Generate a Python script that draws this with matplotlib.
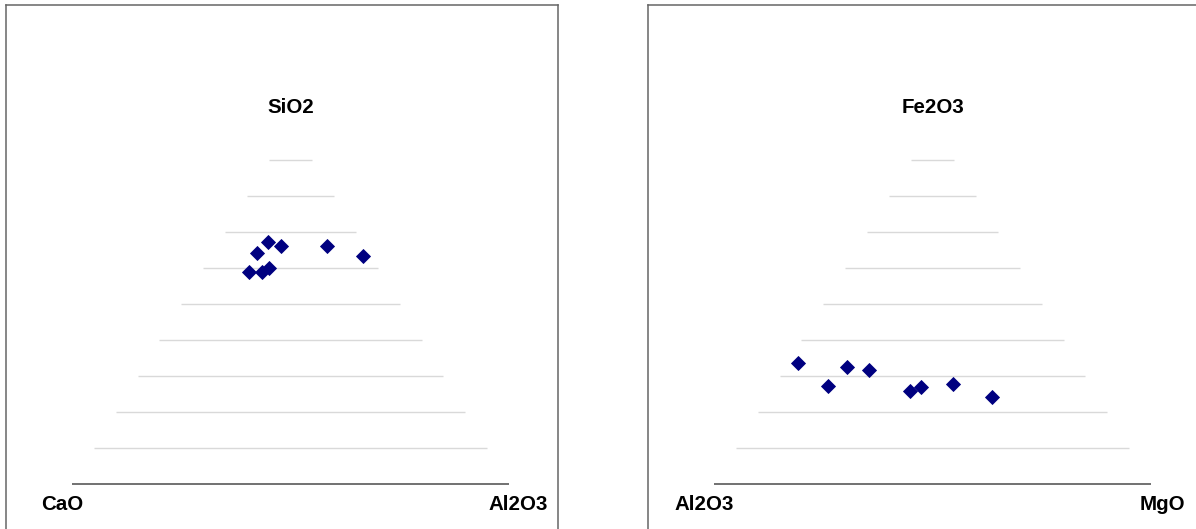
import matplotlib
matplotlib.use("Agg")
import matplotlib.pyplot as plt
import numpy as np

plt.rcParams['font.family'] = ['Liberation Sans', 'DejaVu Sans']

# ---- data (normalised wt %) ----
left_top_label, left_left_label, left_right_label = "SiO2", "CaO", "Al2O3"
left_SiO2 = [67.3, 66.0, 64.1, 66.0, 63.4, 58.9, 58.9, 60.1]
left_CaO = [21.4, 19.2, 25.6, 8.7, 1.6, 30.1, 27.1, 24.8]
left_Al2O3 = [11.3, 14.8, 10.3, 25.3, 35.0, 11.0, 14.0, 15.1]

right_top_label, right_left_label, right_right_label = "Fe2O3", "Al2O3", "MgO"
right_Fe2O3 = [33.6, 27.1, 32.4, 31.6, 25.8, 26.9, 27.7, 24.1]
right_Al2O3 = [63.9, 60.4, 53.4, 48.7, 42.2, 39.2, 31.5, 24.3]
right_MgO = [2.5, 12.5, 14.2, 19.7, 32.0, 33.9, 40.8, 51.6]

grid_levels = [0.1, 0.2, 0.3, 0.4, 0.5, 0.6, 0.7, 0.8, 0.9]

W, H = 1196, 529
fig = plt.figure(figsize=(W / 100, H / 100), dpi=100)


def panel(x0, top, left, right, top_lbl, left_lbl, right_lbl, lx, rx):
    # frame
    pa = fig.add_axes([x0 / W, -0.1, 552 / W, 1.1 - 5 / H])
    pa.set_xticks([]); pa.set_yticks([])
    for s in pa.spines.values():
        s.set_color('#666666'); s.set_linewidth(1.1)
    pa.patch.set_alpha(0)
    # triangle axes
    tx0 = x0 + 66
    ax = fig.add_axes([tx0 / W, (H - 484) / H, 437 / W, 360 / H])
    ax.set_xlim(0, 1); ax.set_ylim(0, 1)
    ax.axis('off')
    for f in grid_levels:
        ax.plot([f / 2, 1 - f / 2], [f, f], color='#d9d9d9', lw=1.0,
                solid_capstyle='butt', clip_on=False)
    ax.plot([0, 1], [0, 0], color='#595959', lw=1.2, solid_capstyle='butt',
            clip_on=False)
    t = np.array(top, float); l = np.array(left, float); r = np.array(right, float)
    s = t + l + r
    t, r = t / s, r / s
    x = r + t / 2
    y = t
    ax.plot(x, y, linestyle='none', marker='D', ms=6.8, color='#000080',
            mec='#000080', mew=0.6, clip_on=False)
    kw = dict(fontsize=14.8, fontweight='bold', color='black',
              ha='center', va='center', transform=ax.transAxes)
    ax.text(0.501, 1.047, top_lbl, **kw)
    ax.text(lx, -0.058, left_lbl, **kw)
    ax.text(rx, -0.058, right_lbl, **kw)


panel(6, left_SiO2, left_CaO, left_Al2O3, left_top_label, left_left_label,
      left_right_label, -0.023, 1.022)
panel(648, right_Fe2O3, right_Al2O3, right_MgO, right_top_label,
      right_left_label, right_right_label, -0.022, 1.025)

fig.savefig("out.png", dpi=100)
